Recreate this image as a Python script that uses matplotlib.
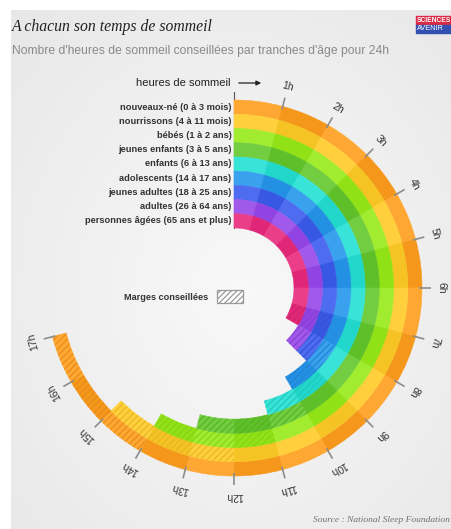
import numpy as np
import matplotlib.pyplot as plt
from matplotlib.patches import Rectangle
from matplotlib.colors import to_rgb

plt.rcParams['font.family'] = ['Liberation Sans', 'DejaVu Sans']
plt.rcParams['hatch.linewidth'] = 0.9

# age groups, outer ring first
categories = [
    'nouveaux-né (0 à 3 mois)',
    'nourrissons (4 à 11 mois)',
    'bébés (1 à 2 ans)',
    'jeunes enfants (3 à 5 ans)',
    'enfants (6 à 13 ans)',
    'adolescents (14 à 17 ans)',
    'jeunes adultes (18 à 25 ans)',
    'adultes (26 à 64 ans)',
    'personnes âgées (65 ans et plus)',
]
# recommended sleep: solid up to min_hours, hatched margin up to max_hours
min_hours = [14, 12, 11, 10, 9, 8, 7, 7, 7]
max_hours = [17, 15, 14, 13, 11, 10, 9, 9, 8]
ring_colors = ['#ff9d1c', '#ffcb26', '#96ea17', '#62c72b', '#22e0d2',
               '#2496ec', '#3a5cee', '#9747ea', '#e8287c']
hour_ticks = list(range(1, 18))

W, H = 452, 529
cx, cy = 234, 288          # centre of the rings, pixels from top-left
r_in, r_out = 60, 188
ring_w = (r_out - r_in) / len(categories)


def shade(c, f):
    rgb = np.array(to_rgb(c))
    if f > 1:
        return tuple(rgb + (1 - rgb) * (f - 1))
    return tuple(rgb * f)


fig = plt.figure(figsize=(W / 100, H / 100), dpi=100)
fig.patch.set_facecolor('white')

# background panel + all loose text in pixel coordinates
bg = fig.add_axes([0, 0, 1, 1])
bg.set_xlim(0, W)
bg.set_ylim(H, 0)
bg.axis('off')
yy, xx = np.mgrid[0:H, 0:W]
d = np.hypot((xx - cx) / W, (yy - cy) / H)
grad = 0.975 - 0.09 * d
bg.imshow(np.dstack([grad] * 3), extent=(11, W, H, 10), zorder=0)

bg.text(12, 31, 'A chacun son temps de sommeil', fontsize=11.3, style='italic',
        family='Liberation Serif', color='#222222', va='baseline')
bg.text(12, 51, "Nombre d'heures de sommeil conseillées par tranches d'âge pour 24h",
        fontsize=8.7, color='#8a8a8a', va='center')

# logo
bg.add_patch(Rectangle((416, 16), 36, 9, color='#d92b45', zorder=2))
bg.add_patch(Rectangle((416, 25), 36, 8, color='#3350b0', zorder=2))
bg.text(417, 20.5, 'SCIENCES', fontsize=4.8, color='white', weight='bold',
        va='center', ha='left', zorder=3)
bg.text(417, 29, 'AVENIR', fontsize=5.2, color='white', va='center', ha='left', zorder=3)

# axis title with arrow
bg.text(231, 83, 'heures de sommeil', fontsize=8, color='#222222', ha='right', va='center')
bg.annotate('', xy=(264, 83), xytext=(236, 83),
            arrowprops=dict(arrowstyle='-|>', color='#222222', lw=0.9, mutation_scale=7))
bg.plot([cx, cx], [92, cy - r_in], color='#555555', lw=0.8)

# row labels
for i, name in enumerate(categories):
    y = cy - (r_out - ring_w * (i + 0.5))
    bg.text(cx - 2.5, y, name, fontsize=6.7, weight='bold', color='#333333',
            ha='right', va='center')

# legend for hatched margins
bg.text(208, 297, 'Marges conseillées', fontsize=6.6, weight='bold', color='#333333',
        ha='right', va='center')
bg.add_patch(Rectangle((217, 290), 26, 13, facecolor='white', edgecolor='#999999',
                       hatch='//////', lw=0.9))

bg.text(450, 520, 'Source : National Sleep Foundation', fontsize=6.8, style='italic',
        family='Liberation Serif', color='#707070', ha='right', va='center')

# polar axes for the rings, 1 data unit = 1 pixel
R = 230
ax = fig.add_axes([(cx - R) / W, 1 - (cy + R) / H, 2 * R / W, 2 * R / H],
                  projection='polar')
ax.set_theta_zero_location('N')
ax.set_theta_direction(-1)
ax.set_ylim(0, R)
ax.axis('off')
ax.patch.set_alpha(0)

step = 2 * np.pi / 24
for i, (lo, hi, col) in enumerate(zip(min_hours, max_hours, ring_colors)):
    bottom = r_out - ring_w * (i + 1)
    for h in range(hi):
        c = shade(col, 1.1) if h % 2 == 0 else shade(col, 0.96)
        theta = (h + 0.5) * step
        ax.bar(theta, ring_w, width=step, bottom=bottom, color=c,
               edgecolor=c, linewidth=0.4)
        if h >= lo:
            ax.bar(theta, ring_w, width=step, bottom=bottom, facecolor='none',
                   edgecolor=shade(col, 0.9), hatch='/////', linewidth=0)

for h in hour_ticks:
    th = h * step
    ax.plot([th, th], [185, 197], color='#8c8c8c', lw=1.2, solid_capstyle='butt')
    ax.text(th, 208, f'{h}h', fontsize=7.5, color='#333333', ha='center',
            va='center', rotation=-h * 15, rotation_mode='anchor')

fig.savefig('out.png', dpi=100, facecolor=fig.get_facecolor())
